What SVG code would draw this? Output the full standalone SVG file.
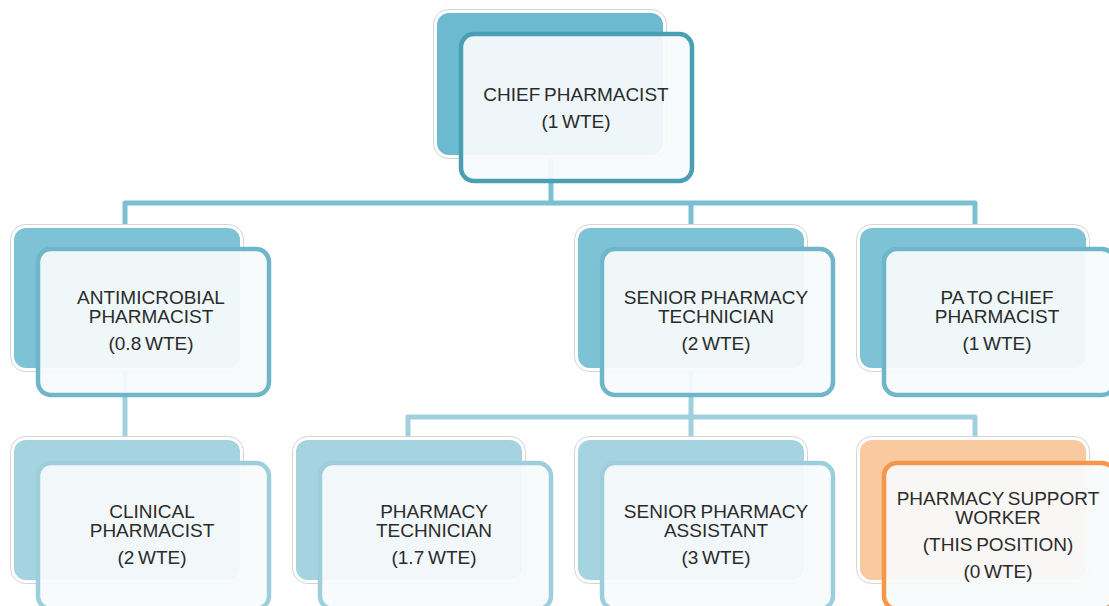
<svg xmlns="http://www.w3.org/2000/svg" width="1109" height="606" viewBox="0 0 1109 606">
<style>
.halo{fill:#ffffff;stroke:#d4d4d4;stroke-width:1}
.front{fill:#f7fbfc;fill-opacity:0.93;stroke-width:4.5}
.t{font-family:"Liberation Sans",Arial,sans-serif;font-size:19px;fill:#2b2b2b;text-anchor:middle;word-spacing:-1.5px}
.c1{fill:none;stroke:#7cbfd2;stroke-width:5;stroke-linejoin:round}
.c2{fill:none;stroke:#a0d0dd;stroke-width:5;stroke-linejoin:round}
.b1{fill:#6cbacf}.s1{stroke:#4b9fb5}
.b2{fill:#7ec3d5}.s2{stroke:#6fb6ca}
.b3{fill:#a5d4e0}.s3{stroke:#9dcedc}
.b4{fill:#f9c9a0}.s4{stroke:#f7964a}
</style>
<rect width="1109" height="606" fill="#ffffff"/>
<g id="connectors">
<path class="c1" d="M551,155 V203 M125,230 V203 H975 V230 M691,203 V230"/>
<path class="c2" d="M125,368 V442"/>
<path class="c2" d="M691,368 V442 M408,442 V417 H975 V442"/>
</g>
<g id="chief">
<rect class="halo" x="433.5" y="9.5" width="233" height="149" rx="15"/>
<rect class="b1" x="437" y="13" width="226" height="142" rx="12"/>
<rect class="front s1" x="461" y="34" width="231" height="147" rx="13"/>
<text class="t" x="576" y="101">CHIEF PHARMACIST</text>
<text class="t" x="576" y="128">(1 WTE)</text>
</g>
<g id="antimicrobial">
<rect class="halo" x="10.5" y="224.5" width="233" height="147" rx="15"/>
<rect class="b2" x="14" y="228" width="226" height="140" rx="12"/>
<rect class="front s2" x="38" y="249" width="231" height="146" rx="13"/>
<text class="t" x="151" y="304">ANTIMICROBIAL</text>
<text class="t" x="151" y="323">PHARMACIST</text>
<text class="t" x="151" y="350">(0.8 WTE)</text>
</g>
<g id="senior-tech">
<rect class="halo" x="574.5" y="224.5" width="233" height="147" rx="15"/>
<rect class="b2" x="578" y="228" width="226" height="140" rx="12"/>
<rect class="front s2" x="602" y="249" width="231" height="146" rx="13"/>
<text class="t" x="716" y="304">SENIOR PHARMACY</text>
<text class="t" x="716" y="323">TECHNICIAN</text>
<text class="t" x="716" y="350">(2 WTE)</text>
</g>
<g id="pa">
<rect class="halo" x="856.5" y="224.5" width="233" height="147" rx="15"/>
<rect class="b2" x="860" y="228" width="226" height="140" rx="12"/>
<rect class="front s2" x="884" y="249" width="231" height="146" rx="13"/>
<text class="t" x="997" y="304">PA TO CHIEF</text>
<text class="t" x="997" y="323">PHARMACIST</text>
<text class="t" x="997" y="350">(1 WTE)</text>
</g>
<g id="clinical">
<rect class="halo" x="10.5" y="436.5" width="233" height="147" rx="15"/>
<rect class="b3" x="14" y="440" width="226" height="140" rx="12"/>
<rect class="front s3" x="38" y="463" width="231" height="146" rx="13"/>
<text class="t" x="152" y="518">CLINICAL</text>
<text class="t" x="152" y="537">PHARMACIST</text>
<text class="t" x="152" y="564">(2 WTE)</text>
</g>
<g id="pharmacy-tech">
<rect class="halo" x="292.5" y="436.5" width="233" height="147" rx="15"/>
<rect class="b3" x="296" y="440" width="226" height="140" rx="12"/>
<rect class="front s3" x="320" y="463" width="231" height="146" rx="13"/>
<text class="t" x="434" y="518">PHARMACY</text>
<text class="t" x="434" y="537">TECHNICIAN</text>
<text class="t" x="434" y="564">(1.7 WTE)</text>
</g>
<g id="senior-assistant">
<rect class="halo" x="574.5" y="436.5" width="233" height="147" rx="15"/>
<rect class="b3" x="578" y="440" width="226" height="140" rx="12"/>
<rect class="front s3" x="602" y="463" width="231" height="146" rx="13"/>
<text class="t" x="716" y="518">SENIOR PHARMACY</text>
<text class="t" x="716" y="537">ASSISTANT</text>
<text class="t" x="716" y="564">(3 WTE)</text>
</g>
<g id="support-worker">
<rect class="halo" x="856.5" y="436.5" width="233" height="147" rx="15"/>
<rect class="b4" x="860" y="440" width="226" height="140" rx="12"/>
<rect class="front s4" x="884" y="463" width="231" height="146" rx="13"/>
<text class="t" x="998" y="505">PHARMACY SUPPORT</text>
<text class="t" x="998" y="524">WORKER</text>
<text class="t" x="998" y="551">(THIS POSITION)</text>
<text class="t" x="998" y="578">(0 WTE)</text>
</g>
</svg>
